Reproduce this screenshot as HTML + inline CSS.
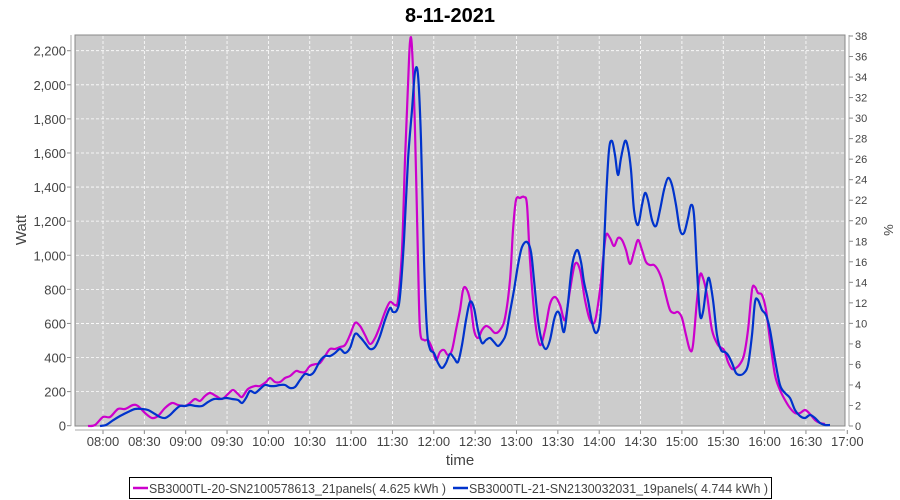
<!DOCTYPE html>
<html><head><meta charset="utf-8"><style>
body{margin:0;background:#fff;}
svg{display:block;font-family:"Liberation Sans",sans-serif;}
</style></head><body>
<svg width="900" height="500" xmlns="http://www.w3.org/2000/svg">
<rect width="900" height="500" fill="#fff"/>
<text x="450" y="22" text-anchor="middle" font-size="20" font-weight="bold" fill="#000">8-11-2021</text>
<rect x="75" y="35" width="770" height="391" fill="#cccccc" stroke="#888" stroke-width="1"/>
<g stroke="#fff" stroke-dasharray="3,2" stroke-width="0.8" id="grid"></g>
<g id="ax" fill="#444" font-size="13"></g>
<g fill="none" stroke-width="2.2" stroke-linejoin="round">
<path id="pm" stroke="#cc00cc"/>
<path id="pb" stroke="#0033cc"/>
</g>
<text transform="translate(26,230) rotate(-90)" text-anchor="middle" font-size="15" fill="#444">Watt</text>
<text transform="translate(884,230) rotate(90)" text-anchor="middle" font-size="13" fill="#444">%</text>
<text x="460" y="465" text-anchor="middle" font-size="15" fill="#444">time</text>
<rect x="129.5" y="477.5" width="642" height="21" fill="#fff" stroke="#000"/>
<line x1="133" y1="488" x2="148" y2="488" stroke="#cc00cc" stroke-width="2.5"/>
<text x="149" y="493" font-size="13" fill="#444" textLength="297" lengthAdjust="spacingAndGlyphs">SB3000TL-20-SN2100578613_21panels( 4.625 kWh )</text>
<line x1="453" y1="488" x2="468" y2="488" stroke="#0033cc" stroke-width="2.5"/>
<text x="469" y="493" font-size="13" fill="#444" textLength="299" lengthAdjust="spacingAndGlyphs">SB3000TL-21-SN2130032031_19panels( 4.744 kWh )</text>
</svg>
<script>
var ns="http://www.w3.org/2000/svg";
function el(p,t,a,txt){var e=document.createElementNS(ns,t);for(var k in a)e.setAttribute(k,a[k]);if(txt!==undefined)e.textContent=txt;p.appendChild(e);return e;}
var g=document.getElementById('grid'),ax=document.getElementById('ax');
for(var v=0;v<=2200;v+=200){var y=425.7-v*0.17045;
 if(v>0)el(g,'line',{x1:76,x2:844,y1:y,y2:y});
 el(ax,'text',{x:66,y:y+5,'text-anchor':'end'},v.toLocaleString('en-US'));
 el(ax,'line',{x1:67,x2:71,y1:y,y2:y,stroke:'#888'});}
el(ax,'line',{x1:71,x2:71,y1:35,y2:426,stroke:'#aaa'});
var lab=['08:00','08:30','09:00','09:30','10:00','10:30','11:00','11:30','12:00','12:30','13:00','13:30','14:00','14:30','15:00','15:30','16:00','16:30','17:00'];
for(var i=0;i<lab.length;i++){var x=103+i*41.35;
 if(i<18)el(g,'line',{x1:x,x2:x,y1:36,y2:425});
 el(ax,'line',{x1:x,x2:x,y1:430,y2:434,stroke:'#888'});
 el(ax,'text',{x:x,y:446,'text-anchor':'middle'},lab[i]);}
el(ax,'line',{x1:75,x2:845,y1:430,y2:430,stroke:'#aaa'});
el(ax,'line',{x1:849,x2:849,y1:35,y2:426,stroke:'#aaa'});
for(var p=0;p<=38;p+=2){var y=426-p*(390/38);
 el(ax,'line',{x1:849,x2:853,y1:y,y2:y,stroke:'#888'});
 el(ax,'text',{x:855,y:y+4,'font-size':11},p);}
function path(pts){var d='M'+pts[0][0]+','+pts[0][1];
 for(var i=0;i<pts.length-1;i++){var p0=pts[i-1]||pts[i],p1=pts[i],p2=pts[i+1],p3=pts[i+2]||p2;
  d+=' C'+(p1[0]+(p2[0]-p0[0])/6)+','+(p1[1]+(p2[1]-p0[1])/6)+' '+(p2[0]-(p3[0]-p1[0])/6)+','+(p2[1]-(p3[1]-p1[1])/6)+' '+p2[0]+','+p2[1];}
 return d;}
var m=[[88,426],[95,425],[103,417],[110,417],[118,409],[125,409],[133,405],[138,406],[145,413],[152,418],[158,416],[165,408],[172,403],[178,405],[185,406],[190,403],[195,399],[200,401],[205,396],[210,393],[216,396],[222,399],[228,394],[233,390],[238,394],[242,397],[248,389],[255,386],[260,386],[266,382],[270,378],[275,382],[280,382],[285,378],[290,376],[296,371],[300,372],[305,372],[310,366],[316,364],[320,363],[325,356],[330,349],[335,349],[340,347],[345,345],[350,335],[355,323],[360,326],[365,335],[370,344],[375,338],[380,326],[385,312],[390,302],[395,305],[398,300],[402,250],[405,160],[408,85],[410,42],[412,48],[415,130],[418,260],[420,330],[424,340],[428,340],[432,348],[436,360],[440,352],[444,350],[448,355],[452,350],[456,330],[460,310],[463,290],[466,288],[470,300],[474,330],[478,338],[482,330],[486,326],[490,328],[495,333],[500,330],[505,318],[510,280],[513,230],[516,200],[520,198],[524,197],[527,205],[530,260],[535,320],[540,345],[545,330],[550,304],[555,297],[560,305],[565,320],[570,290],[575,264],[580,270],[585,300],[590,320],[595,321],[600,290],[603,260],[606,235],[610,238],[614,246],[618,238],[622,240],[626,250],[630,264],[634,252],[638,240],[642,250],[646,262],[650,265],[654,265],[658,270],[662,280],[666,296],[670,310],[674,313],[678,312],[682,318],[686,335],[690,350],[693,345],[697,300],[700,275],[703,278],[707,295],[712,330],[718,345],[724,350],[728,362],[732,369],[736,368],[740,364],[744,355],[748,330],[752,290],[755,287],[758,293],[762,295],[766,310],[770,340],[775,375],[780,390],[785,400],[790,408],[795,413],[800,413],[805,410],[810,414],[815,420],[820,423],[825,424]];
var b=[[100,426],[106,425],[112,421],[120,416],[128,412],[135,409],[142,409],[148,410],[155,414],[160,417],[165,418],[170,415],[175,410],[180,406],[185,406],[190,405],[196,406],[202,406],[208,402],[214,399],[220,399],[226,398],[232,399],[238,400],[242,403],[246,398],[250,391],[255,393],[260,389],[265,385],[270,386],[275,386],[280,385],[285,385],[290,388],[295,387],[300,380],[305,374],[310,375],[314,372],[320,361],[325,356],[330,356],[335,353],[340,349],[345,353],[350,348],[355,334],[360,337],[365,343],[370,349],[375,347],[380,336],[385,320],[390,308],[393,312],[397,310],[400,296],[404,240],[408,160],[412,110],[415,72],[418,75],[421,140],[424,260],[427,330],[430,349],[434,353],[438,363],[442,368],[446,363],[450,354],[454,358],[458,362],[462,345],[466,320],[470,302],[474,308],[478,330],[482,343],[486,340],[490,338],[494,342],[498,346],[502,342],[506,334],[510,312],[514,290],[518,265],[522,247],[527,242],[531,252],[534,280],[538,320],[542,342],[546,349],[550,340],[554,320],[557,312],[560,315],[564,332],[568,303],[572,266],[577,250],[581,262],[584,282],[588,300],[592,322],[596,333],[600,320],[603,270],[606,200],[609,150],[612,141],[615,155],[618,175],[621,158],[625,141],[628,148],[631,170],[634,210],[638,225],[642,205],[645,193],[648,200],[652,220],[656,226],[660,210],[664,190],[668,178],[672,185],[676,205],[680,230],[684,233],[688,218],[691,205],[694,215],[697,270],[700,315],[703,312],[706,290],[709,278],[713,300],[717,335],[721,350],[725,352],[728,355],[732,363],[736,373],[740,375],[744,373],[748,365],[752,335],[755,302],[758,300],[762,310],[766,315],[770,330],[775,360],[780,385],[785,393],[790,398],[795,410],[800,416],[805,418],[810,415],[815,418],[820,423],[825,425],[830,425]];
document.getElementById('pm').setAttribute('d',path(m));
document.getElementById('pb').setAttribute('d',path(b));
</script>
</body></html>
